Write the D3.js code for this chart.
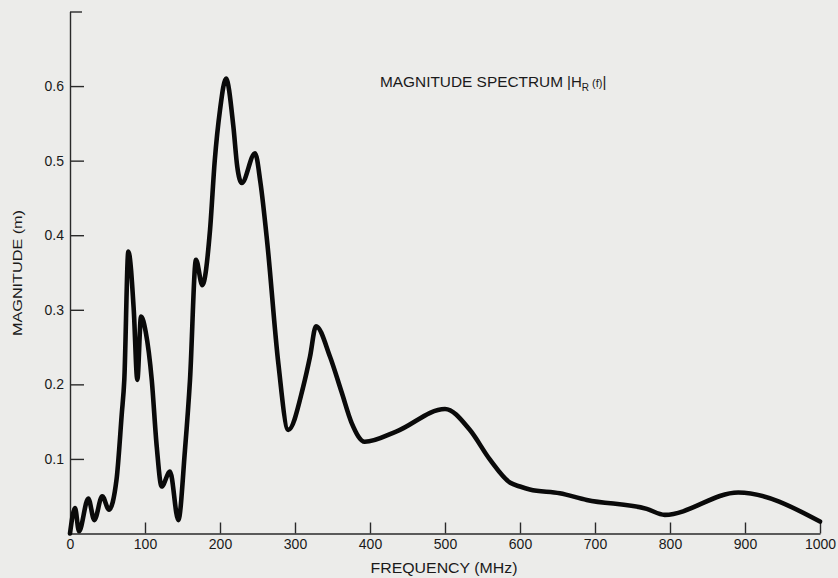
<!DOCTYPE html>
<html>
<head>
<meta charset="utf-8">
<script src="https://cdn.jsdelivr.net/npm/d3@7"></script>
<style>
  html, body { margin: 0; padding: 0; background: #ececea; }
  svg { display: block; }
  text { font-family: "Liberation Sans", Arial, sans-serif; fill: #1a1a1a; }
</style>
</head>
<body>
<svg id="chart" width="838" height="578"></svg>
<script>
// ---- data ----
const frequency = [0, 6.7, 12, 24.4, 32.4, 43, 52, 62, 69, 72.4, 77.8, 85, 89.8, 94.7, 101, 109, 115.6, 122.2, 133.3, 144.4,
  153.3, 160, 168, 176.4, 186.7, 193, 200, 208, 217.8, 223, 229, 246.7, 254, 263, 277.8, 291, 311, 320, 328, 346.7,
  362, 375.6, 393, 435.6, 500, 533, 560, 587, 600, 613, 653, 689, 769, 793, 891, 1000];
const magnitude = [0.0, 0.034, 0.003, 0.047, 0.018, 0.05, 0.032, 0.072, 0.16, 0.206, 0.378, 0.30, 0.206, 0.291, 0.27, 0.206,
  0.117, 0.063, 0.083, 0.018, 0.112, 0.206, 0.367, 0.333, 0.407, 0.5, 0.568, 0.61, 0.546, 0.492, 0.47, 0.51, 0.47,
  0.39, 0.228, 0.139, 0.197, 0.237, 0.278, 0.237, 0.19, 0.148, 0.123, 0.137, 0.167, 0.139, 0.099, 0.068, 0.063, 0.059,
  0.054, 0.045, 0.033, 0.025, 0.055, 0.016];
const xTicks = [0, 100, 200, 300, 400, 500, 600, 700, 800, 900, 1000];
const yTicks = [0.1, 0.2, 0.3, 0.4, 0.5, 0.6, 0.7];
const yTickLabels = ["0.1", "0.2", "0.3", "0.4", "0.5", "0.6", ""];
const titleText = "MAGNITUDE SPECTRUM";
const xLabel = "FREQUENCY (MHz)";
const yLabel = "MAGNITUDE (m)";

// ---- drawing ----
const svg = d3.select("#chart");
const x = d3.scaleLinear().domain([0, 1000]).range([70, 820]);
const y = d3.scaleLinear().domain([0, 0.7]).range([533.5, 11.5]);

const axisColor = "#2a2a2a";
const font = "'Liberation Sans', Arial, sans-serif";

// x axis (ticks pointing up)
const xAxis = d3.axisBottom(x).tickValues(xTicks).tickSizeInner(-11).tickSizeOuter(0).tickPadding(14)
  .tickFormat(d3.format("d"));
const gx = svg.append("g").attr("transform", `translate(0,${y(0)})`).call(xAxis);
gx.select(".domain").attr("stroke", axisColor).attr("stroke-width", 1.4);
gx.selectAll(".tick line").attr("stroke", axisColor).attr("stroke-width", 1.4);
gx.selectAll(".tick").filter(d => d === 0).select("line").remove();
gx.selectAll(".tick text").attr("font-size", 14).attr("fill", "#1a1a1a")
  .attr("font-family", font).attr("dy", "0.1em");

// y axis (ticks pointing right)
const yAxis = d3.axisLeft(y).tickValues(yTicks).tickSizeInner(-14).tickSizeOuter(0).tickPadding(6)
  .tickFormat((d, i) => yTickLabels[i]);
const gy = svg.append("g").attr("transform", `translate(${x(0)},0)`).call(yAxis);
gy.select(".domain").attr("stroke", axisColor).attr("stroke-width", 1.4);
gy.selectAll(".tick line").attr("stroke", axisColor).attr("stroke-width", 1.4);
gy.selectAll(".tick").filter(d => d === 0.7).select("line").attr("x2", 12);
gy.selectAll(".tick text").attr("font-size", 14).attr("fill", "#1a1a1a")
  .attr("font-family", font);

// curve
const pts = frequency.map((f, i) => [f, magnitude[i]]);
const line = d3.line().x(d => x(d[0])).y(d => y(d[1])).curve(d3.curveMonotoneX);
svg.append("path").datum(pts).attr("d", line)
  .attr("fill", "none").attr("stroke", "#0a0a0a").attr("stroke-width", 4.6)
  .attr("stroke-linejoin", "round").attr("stroke-linecap", "round");

// title
const t = svg.append("text").attr("x", 380).attr("y", 87).attr("font-size", 14.5);
t.append("tspan").attr("textLength", 183).attr("lengthAdjust", "spacingAndGlyphs").text(titleText);
t.append("tspan").attr("x", 567).attr("font-size", 15).text("|H");
t.append("tspan").attr("font-size", 10).attr("dy", 4).text("R");
t.append("tspan").attr("font-size", 11).attr("dy", -4).text(" (f)");
t.append("tspan").attr("font-size", 15).text("|");

// axis labels
svg.append("text").attr("x", 444).attr("y", 573).attr("text-anchor", "middle")
  .attr("font-size", 14).attr("textLength", 147).attr("lengthAdjust", "spacingAndGlyphs").text(xLabel);
svg.append("text").attr("transform", "translate(22,273) rotate(-90)").attr("text-anchor", "middle")
  .attr("font-size", 13.5).attr("textLength", 126).attr("lengthAdjust", "spacingAndGlyphs").text(yLabel);
</script>
</body>
</html>
